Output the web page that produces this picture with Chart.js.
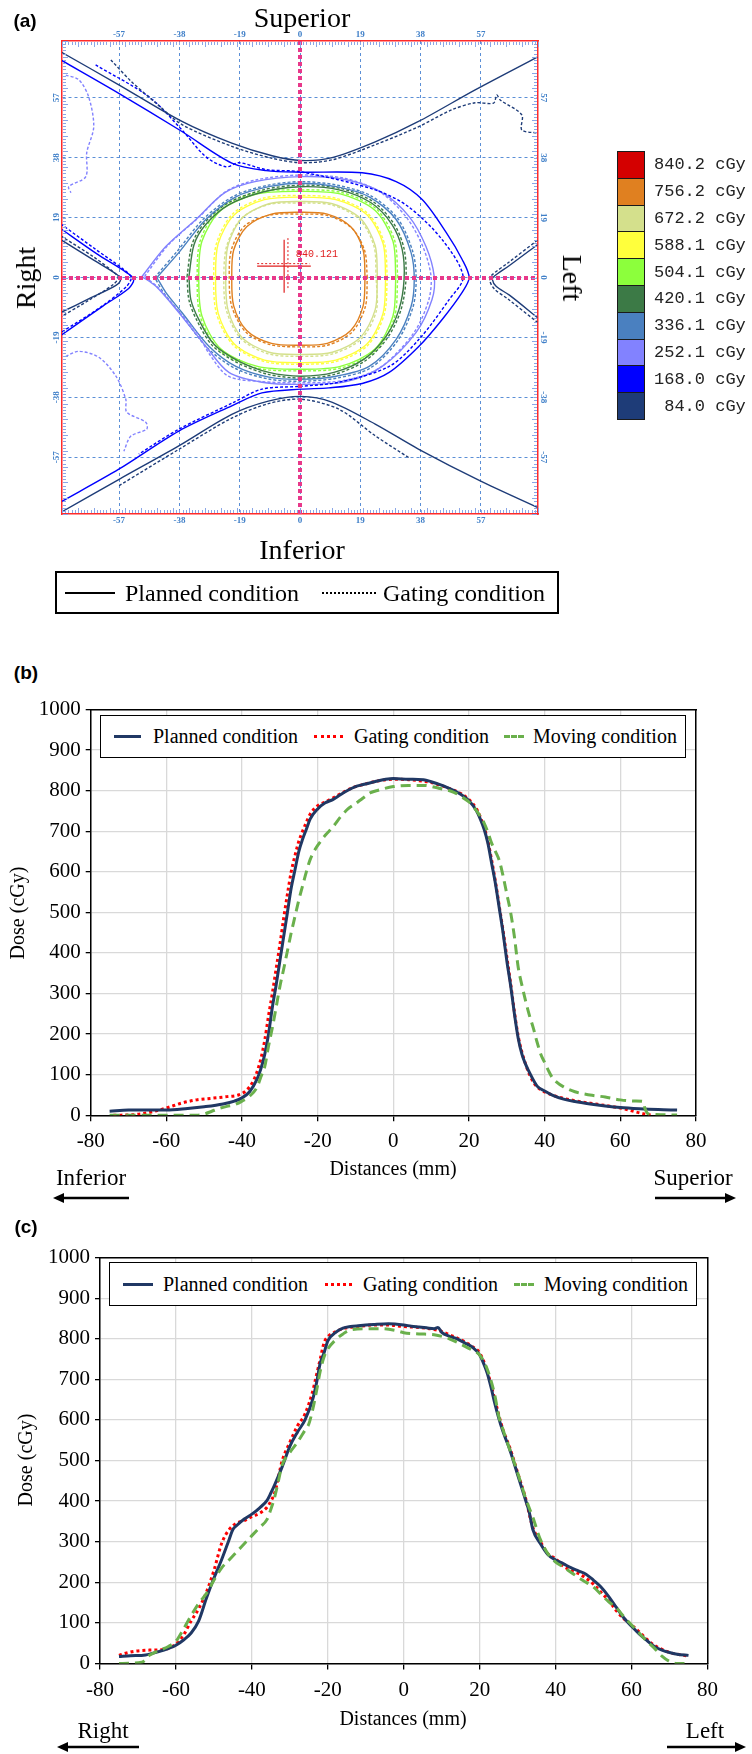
<!DOCTYPE html>
<html><head><meta charset="utf-8">
<script src="https://cdn.jsdelivr.net/npm/chart.js@4.4.1/dist/chart.umd.min.js"></script>
<style>
html,body{margin:0;padding:0;background:#fff;}
#page{position:relative;width:752px;height:1754px;overflow:hidden;font-family:"Liberation Serif","Times New Roman",serif;color:#000;}
canvas{position:absolute;left:0;}
.t{position:absolute;white-space:nowrap;transform:translate(-50%,-50%);line-height:1;}
.tl{position:absolute;white-space:nowrap;transform:translate(0,-50%);line-height:1;}
.pl{position:absolute;font-family:"Liberation Sans",Arial,sans-serif;font-weight:bold;font-size:19px;transform:translate(-50%,-50%);}
.box{position:absolute;background:#fff;box-sizing:border-box;}
.ln{position:absolute;height:0;}
</style></head>
<body><div id="page">
<canvas id="ca" width="752" height="560" style="top:0"></canvas>
<canvas id="cb" width="752" height="500" style="top:690px"></canvas>
<canvas id="cc" width="752" height="480" style="top:1240px"></canvas>

<div class="pl" style="left:25px;top:21px">(a)</div>
<div class="t" style="left:302px;top:18px;font-size:28px">Superior</div>
<div class="t" style="left:302px;top:550px;font-size:28px">Inferior</div>
<div class="t" style="left:26px;top:278px;font-size:28px;transform:translate(-50%,-50%) rotate(-90deg)">Right</div>
<div class="t" style="left:572px;top:278px;font-size:28px;transform:translate(-50%,-50%) rotate(90deg)">Left</div>
<div id="cl"></div>
<div class="box" style="left:55px;top:571px;width:504px;height:43px;border:2px solid #000"></div>
<div class="ln" style="left:65px;top:592px;width:50px;border-top:2px solid #000"></div>
<div class="tl" style="left:125px;top:593px;font-size:24px">Planned condition</div>
<div class="ln" style="left:322px;top:592px;width:54px;border-top:2px dotted #000"></div>
<div class="tl" style="left:383px;top:593px;font-size:24px">Gating condition</div>

<div class="pl" style="left:26px;top:673px">(b)</div>
<div class="box" style="left:100px;top:715px;width:586px;height:43px;border:1.5px solid #000"></div>
<div class="ln" style="left:114px;top:735px;width:27px;border-top:3px solid #203864"></div>
<div class="tl" style="left:153px;top:736px;font-size:20px">Planned condition</div>
<div class="ln" style="left:314px;top:735px;width:29px;border-top:3px dotted #ff0000"></div>
<div class="tl" style="left:354px;top:736px;font-size:20px">Gating condition</div>
<div class="ln" style="left:504px;top:735px;width:20px;border-top:3px dashed #6ab04c"></div>
<div class="tl" style="left:533px;top:736px;font-size:20px">Moving condition</div>
<div class="t" style="left:17px;top:913px;font-size:20px;transform:translate(-50%,-50%) rotate(-90deg)">Dose (cGy)</div>
<div class="t" style="left:393px;top:1168px;font-size:20px">Distances (mm)</div>
<div class="t" style="left:91px;top:1177px;font-size:23px">Inferior</div>
<div class="t" style="left:693px;top:1177px;font-size:23px">Superior</div>
<svg style="position:absolute;left:0;top:1188px" width="752" height="20">
<line x1="62" y1="10" x2="129" y2="10" stroke="#000" stroke-width="2.5"/><polygon points="53,10 64,5 64,15" fill="#000"/>
<line x1="655" y1="10" x2="727" y2="10" stroke="#000" stroke-width="2.5"/><polygon points="736,10 725,5 725,15" fill="#000"/>
</svg>

<div class="pl" style="left:26px;top:1227px">(c)</div>
<div class="box" style="left:109px;top:1262px;width:588px;height:44px;border:1.5px solid #000"></div>
<div class="ln" style="left:123px;top:1283px;width:30px;border-top:3px solid #203864"></div>
<div class="tl" style="left:163px;top:1284px;font-size:20px">Planned condition</div>
<div class="ln" style="left:325px;top:1283px;width:27px;border-top:3px dotted #ff0000"></div>
<div class="tl" style="left:363px;top:1284px;font-size:20px">Gating condition</div>
<div class="ln" style="left:514px;top:1283px;width:20px;border-top:3px dashed #6ab04c"></div>
<div class="tl" style="left:544px;top:1284px;font-size:20px">Moving condition</div>
<div class="t" style="left:25px;top:1460px;font-size:20px;transform:translate(-50%,-50%) rotate(-90deg)">Dose (cGy)</div>
<div class="t" style="left:403px;top:1718px;font-size:20px">Distances (mm)</div>
<div class="t" style="left:103px;top:1730px;font-size:23px">Right</div>
<div class="t" style="left:705px;top:1730px;font-size:23px">Left</div>
<svg style="position:absolute;left:0;top:1737px" width="752" height="20">
<line x1="66" y1="10" x2="139" y2="10" stroke="#000" stroke-width="2.5"/><polygon points="57,10 68,5 68,15" fill="#000"/>
<line x1="667" y1="10" x2="737" y2="10" stroke="#000" stroke-width="2.5"/><polygon points="746,10 735,5 735,15" fill="#000"/>
</svg>
</div>
<script>
// ---------- Panel (a) data: isodose levels ----------
const levelLabels = ['840.2 cGy','756.2 cGy','672.2 cGy','588.1 cGy','504.1 cGy','420.1 cGy','336.1 cGy','252.1 cGy','168.0 cGy',' 84.0 cGy'];
const levelColors = ['#d40000','#e08020','#d4e08c','#ffff3c','#8cff3c','#3c7a46','#4a80c0','#8282ff','#0000ff','#1e3c78'];
const aTicks = [-57,-38,-19,0,19,38,57];
const aZero = [0];

const c756P = [[20.5,0],[19.9,8.7],[16.0,16.1],[8.6,20.1],[0,20.7],[-9.0,20.1],[-16.8,16.1],[-20.9,8.7],[-21.5,0],[-20.9,-9.0],[-16.8,-16.8],[-9.0,-20.9],[0,-21.5],[8.6,-20.9],[16.0,-16.8],[19.9,-9.0]];
const c756G = [[21.2,0],[20.4,8.4],[16.4,15.6],[8.8,19.6],[0,20.1],[-9.4,19.8],[-17.3,16.5],[-21.6,8.9],[-22.3,0],[-21.5,-9.2],[-17.0,-17.4],[-9.3,-21.3],[0,-22.0],[8.9,-21.4],[16.5,-17.2],[20.6,-9.2]];
const c672P = [[24.4,0],[23.7,10.1],[19.0,18.8],[10.2,23.4],[0,24.1],[-9.8,23.4],[-18.3,18.8],[-22.7,10.1],[-23.4,0],[-22.7,-10.2],[-18.3,-19.0],[-9.8,-23.7],[0,-24.4],[10.2,-23.7],[19.0,-19.0],[23.7,-10.2]];
const c672G = [[24.0,0],[23.3,10.0],[18.7,18.5],[10.0,23.0],[0,23.6],[-10.1,23.1],[-18.6,18.6],[-23.1,10.0],[-24.0,0],[-23.2,-10.4],[-18.6,-19.4],[-10.0,-24.2],[0,-25.0],[10.4,-24.2],[19.4,-19.4],[24.1,-10.4]];
const c588P = [[27,0],[26.2,10.7],[21.1,19.9],[11.3,24.7],[0,25.5],[-11.2,24.7],[-20.7,19.9],[-25.8,10.7],[-26.6,0],[-25.8,-11.3],[-20.7,-21.1],[-11.2,-26.2],[0,-27],[11.3,-26.2],[21.1,-21.1],[26.2,-11.3]];
const c588G = [[27.5,0],[26.6,10.9],[21.4,20.3],[11.5,25.1],[0,26.0],[-11.4,25.2],[-21.1,20.3],[-26.3,10.9],[-27.2,0],[-26.3,-11.5],[-21.0,-21.5],[-11.4,-26.6],[0,-27.5],[11.5,-26.6],[21.4,-21.5],[26.6,-11.5]];
const c504P = [[30.2,0],[29.3,11.5],[23.6,21.3],[12.7,26.5],[0,27.3],[-13.4,26.5],[-24.9,21.3],[-30.9,11.5],[-31.9,0],[-30.9,-12.2],[-24.9,-22.7],[-13.4,-28.2],[0,-29.1],[12.7,-28.2],[23.6,-22.7],[29.3,-12.2]];
const c504G = [[30.8,0],[29.8,11.8],[24.0,21.8],[12.9,27.0],[0,27.8],[-13.6,27.0],[-25.3,21.8],[-31.4,11.8],[-32.4,0],[-31.4,-12.5],[-25.3,-23.1],[-13.6,-28.7],[0,-29.6],[12.9,-28.7],[24.0,-23.1],[29.8,-12.5]];
const c420P = [[-35.0,0.3],[-33.4,10.4],[-29.7,16.8],[-22.4,23.1],[-11.4,27.2],[0.3,28.8],[12.3,27.8],[22.4,23.7],[29.0,16.8],[32.2,8.9],[32.8,-0.6],[31.2,-10.1],[27.1,-18.7],[20.2,-25.9],[10.7,-30.1],[0.3,-31.3],[-9.8,-30.1],[-19.2,-26.6],[-27.1,-21.2],[-31.9,-13.3],[-34.4,-7.0]];
const c420G = [[-35.6,0.3],[-34.0,10.6],[-30.2,17.2],[-22.8,23.6],[-11.6,27.8],[0.3,29.3],[12.5,28.3],[22.8,24.2],[29.5,17.2],[32.8,9.1],[33.4,-0.6],[31.8,-10.3],[27.6,-19.1],[20.6,-26.4],[10.9,-30.7],[0.3,-31.9],[-10.0,-30.7],[-19.6,-27.1],[-27.6,-21.6],[-32.5,-13.6],[-35.0,-7.1]];
const c336P = [[-45.1,0],[-38.2,7.9],[-29.7,18.4],[-20.2,25.6],[-9.8,28.8],[0.3,29.9],[11.4,28.8],[21.8,25.6],[30.3,18.4],[35.0,7.9],[36.0,-0.6],[35.0,-9.2],[30.3,-19.6],[21.8,-28.2],[11.4,-31.3],[0.3,-32.3],[-9.8,-31.6],[-20.2,-28.2],[-28.7,-21.8],[-37.2,-11.1],[-42.3,-4.7]];
const c336G = [[-45.8,0],[-38.8,8.2],[-30.2,18.8],[-20.5,26.0],[-9.9,29.3],[0.3,30.4],[11.6,29.3],[22.2,26.0],[30.8,18.7],[35.6,8.0],[36.6,-0.6],[35.6,-9.4],[30.8,-20.0],[22.2,-28.7],[11.6,-31.9],[0.3,-32.9],[-9.9,-32.2],[-20.5,-28.8],[-29.2,-22.3],[-37.8,-11.3],[-43.0,-4.8]];
const c252P = [[-49.8,0.3],[-42.3,9.8],[-32.8,18.4],[-23.7,26.9],[-14.2,30.4],[0.3,32.0],[14.5,31.0],[25.9,26.9],[34.4,19.3],[39.7,9.8],[42.3,0.3],[41.6,-7.0],[36.6,-17.4],[25.9,-28.2],[14.5,-33.0],[0.3,-33.9],[-12.0,-33.2],[-22.4,-30.1],[-29.7,-21.8],[-38.2,-11.1],[-45.4,-2.8]];
const c252G = [[-49.0,0.3],[-41.6,10.2],[-32.2,18.8],[-23.3,27.3],[-14.0,30.9],[0.3,32.5],[14.3,31.4],[25.4,27.0],[33.6,19.0],[38.8,9.6],[41.3,0.3],[40.5,-7.4],[35.7,-17.8],[25.2,-28.6],[14.2,-32.6],[0.3,-33.4],[-12.2,-33.0],[-22.6,-31.3],[-28.4,-24.5],[-32.5,-17.5],[-37.5,-11.6],[-44.7,-3.2]];
const c252GUpper = [[-73.8,64.2],[-69.7,62.7],[-66.6,57.3],[-65.0,47.8],[-67.2,39.6],[-67.5,32.0],[-72.9,28.8],[-72.2,26.9]];
const c252GLower = [[-73.8,-25.0],[-69.7,-23.4],[-63.4,-25.3],[-58.0,-31.3],[-54.9,-38.6],[-54.6,-42.7],[-48.6,-45.9],[-48.3,-48.1],[-53.3,-50.3],[-55.5,-55.1]];
const c168P = [[-75.4,69.0],[-57.1,58.4],[-37.2,46.3],[-21.5,36.3],[-10.7,33.9],[0.3,33.4],[19.6,33.2],[30.3,30.4],[38.5,24.7],[46.1,14.2],[51.1,5.7],[53.3,0],[51.1,-4.7],[44.8,-13.3],[37.5,-21.8],[28.1,-30.1],[19.6,-33.6],[9.1,-35.0],[0.3,-35.4],[-12.0,-36.6],[-21.5,-40.7],[-38.2,-48.7],[-57.1,-60.8],[-75.4,-71.2]];
const c168G = [[-64.4,67.4],[-47.6,57.3],[-37.2,46.8],[-29.7,38.3],[-23.3,35.1],[-19.2,36.4],[-10.7,34.2],[0.3,33.5],[23.7,27.8],[34.1,22.5],[44.8,12.0],[51.4,0.3],[47.0,-7.0],[37.5,-19.6],[28.1,-28.2],[12.3,-33.2],[0.3,-34.5],[-12.0,-35.4],[-21.5,-39.9],[-38.2,-48.1],[-50.8,-56.0]];
const c168PCone = [[-75.4,15.5],[-64,7.5],[-55,1.8],[-52.4,-0.5],[-54,-3.5],[-62,-9],[-75.4,-18.4]];
const c168GCone = [[-75.4,17.0],[-64.5,9.0],[-55.5,2.5],[-53.2,0],[-54.8,-3.0],[-63,-9.5],[-75.4,-17.5]];
const c84PUpper = [[-75.4,71.6],[-57.1,61.1],[-37.2,49.5],[-21.5,42.6],[-8.8,38.6],[0.3,37.1],[10.1,38.0],[23.7,43.0],[37.2,49.4],[55.2,59.5],[74.8,69.9]];
const c84GUpper = [[-59.6,69.0],[-53.0,62.0],[-45.0,55.0],[-37.2,48.5],[-21.5,41.6],[-8.8,37.8],[0.3,36.4],[10.1,37.3],[23.7,42.1],[37.3,47.8],[47.9,53.2],[55.2,55.4],[61.0,55.3],[62.0,57.9],[63.1,56.3],[69.9,51.6],[69.9,46.8],[75.2,45.8]];
const c84PLower = [[-75.4,-74.5],[-57,-64],[-38.2,-53.4],[-21.5,-43.4],[-10,-39.2],[0.3,-37.7],[10,-39.5],[23.7,-46.5],[37.3,-54.4],[56.8,-64.5],[74.8,-72.9]];
const c84GLower = [[-57,-66],[-38.2,-54.5],[-21.5,-44.6],[-10,-40.0],[0.3,-38.6],[12.3,-41.8],[23.7,-50.2],[34.7,-57.4]];
const c84PLeftCone = [[-75.4,12.0],[-65,5.5],[-57.5,0.8],[-56.5,-0.6],[-58,-2.5],[-66,-6.5],[-75.4,-11.1]];
const c84GLeftCone = [[-75.4,13.2],[-65,6.5],[-58.5,1.5],[-57.3,0],[-58.8,-2.2],[-66.5,-7.2],[-75.4,-12.5]];
const c84PRightCone = [[74.8,10.4],[66,3.8],[61.2,0.4],[60.6,-0.6],[61.8,-2.8],[66,-5.6],[74.8,-12.7]];
const c84GRightCone = [[74.8,11.8],[65.5,4.6],[60.3,0.6],[59.8,-1.0],[61.2,-3.6],[65.5,-6.8],[74.8,-14.2]];
const markerH = [[-13.5,3.6],[3.4,3.6]];
const markerV = [[-5.0,12.0],[-5.0,-4.8]];
const markerHd = [[-13.5,4.4],[3.0,4.4]];
const markerVd = [[-3.8,12.5],[-3.8,-3.5]];
const markerLabel = [-1.3, 7.3];
const markerText = '840.121';

// ---------- Panel (b): Inferior-Superior profile ----------
const bPlanned = [[-75,10],[-70,13],[-65,13],[-60,13],[-55,16],[-50,21],[-45,28],[-42,35],[-40,43],[-38,58],[-36,90],[-35,115],[-34,150],[-33,200],[-32,265],[-31,320],[-30,380],[-29,440],[-28,500],[-27,560],[-26,605],[-25,650],[-24,680],[-23,705],[-22,730],[-20,755],[-18,770],[-16,778],[-14,790],[-12,801],[-10,810],[-8,815],[-5,822],[-2,828],[0,830],[4,828],[8,827],[10,822],[14,809],[18,790],[20,775],[22,750],[23,730],[24,705],[25,670],[26,620],[27,570],[28,510],[29,450],[30,380],[31,320],[32,250],[33,190],[34,150],[35,125],[36,105],[38,72],[40,60],[42,50],[45,40],[48,34],[52,28],[56,23],[60,19],[65,16],[70,14],[75,13]];
const bGating = [[-74,0],[-68,2],[-64,8],[-60,18],[-56,30],[-52,38],[-48,42],[-44,46],[-41,50],[-39,60],[-37,85],[-36,108],[-35,140],[-34,185],[-33,245],[-32,300],[-31,360],[-30,420],[-29,485],[-28,545],[-27,600],[-26,640],[-25,675],[-24,700],[-23,722],[-22,742],[-20,763],[-18,772],[-16,782],[-14,792],[-12,802],[-10,810],[-8,815],[-5,822],[-2,827],[0,828],[4,827],[8,823],[10,820],[14,808],[18,792],[20,778],[22,755],[23,735],[24,710],[25,675],[26,628],[27,575],[28,515],[29,455],[30,390],[31,325],[32,255],[33,195],[34,155],[35,125],[36,100],[37,82],[38,70],[42,50],[48,36],[54,27],[60,18],[63,11],[66,4],[68,1]];
const bMoving = [[-75,0],[-70,0],[-60,0],[-52,0],[-50,3],[-48,10],[-46,17],[-44,22],[-42,26],[-40,35],[-38,47],[-36,70],[-35,95],[-34,120],[-33,170],[-32,215],[-31,265],[-30,317],[-29,360],[-28,405],[-27,450],[-26,490],[-25,530],[-24,565],[-23,600],[-22,630],[-21,650],[-20,665],[-18,690],[-16,710],[-14,735],[-12,755],[-10,768],[-8,782],[-6,795],[-4,801],[0,810],[4,813],[8,813],[12,806],[16,796],[18,785],[20,772],[22,750],[24,720],[25,697],[26,670],[27,650],[28,628],[29,590],[30,545],[31,500],[32,440],[33,365],[34,320],[35,280],[36,245],[37,215],[38,180],[39,150],[40,130],[41,110],[42,93],[43,83],[45,70],[48,58],[52,50],[56,45],[60,38],[64,35],[66,34],[66.5,17],[67.5,3],[75,1]];

// ---------- Panel (c): Right-Left profile ----------
const cPlanned = [[-75,17],[-72,19],[-68,21],[-65,28],[-62,37],[-60,45],[-58,58],[-56,75],[-54,105],[-52,160],[-50,210],[-48,255],[-46,305],[-45,330],[-44,340],[-42,356],[-40,368],[-38,383],[-36,402],[-35,420],[-34,440],[-32,485],[-30,535],[-28,570],[-26,600],[-24,650],[-23,690],[-22,740],[-21,765],[-20,795],[-18,815],[-16,826],[-14,830],[-12,832],[-8,835],[-4,837],[0,834],[2,831],[4,829],[6,827],[8,825],[9,828],[10,816],[12,806],[14,800],[16,790],[18,780],[20,760],[21,740],[22,715],[23,680],[24,640],[25,605],[26,575],[27,550],[28,525],[30,465],[32,405],[33,375],[34,330],[36,295],[38,268],[40,255],[42,246],[44,236],[46,228],[48,220],[50,205],[52,188],[54,165],[56,138],[58,112],[60,92],[62,73],[64,57],[66,42],[68,33],[70,27],[72,23],[75,20]];
const cGating = [[-75,20],[-73,26],[-71,30],[-67,33],[-63,35],[-60,48],[-58,70],[-56,105],[-54,135],[-52,175],[-50,229],[-48,295],[-46,330],[-44,346],[-42,352],[-40,362],[-38,370],[-36,385],[-35,400],[-34,420],[-32,500],[-30,545],[-28,585],[-26,615],[-24,670],[-23,710],[-22,750],[-21,790],[-20,805],[-18,817],[-16,825],[-12,830],[-8,834],[-4,834],[0,830],[4,828],[8,823],[10,818],[12,810],[14,802],[16,793],[18,781],[20,765],[22,720],[24,650],[26,580],[28,530],[30,470],[32,410],[34,335],[36,300],[38,270],[40,258],[42,240],[44,230],[46,222],[48,210],[50,195],[52,175],[54,155],[56,130],[58,110],[60,95],[62,78],[64,60],[66,45],[68,35],[70,27],[72,23],[75,18]];
const cMoving = [[-75,0],[-69,3],[-67,20],[-65,30],[-62,42],[-60,55],[-58,85],[-56,118],[-54,148],[-52,172],[-50,205],[-48,235],[-46,255],[-44,275],[-42,295],[-40,315],[-38,335],[-36,355],[-35,380],[-34,410],[-33,450],[-32,490],[-30,520],[-28,545],[-26,575],[-25,590],[-24,625],[-23,670],[-22,720],[-21,755],[-20,775],[-18,797],[-16,812],[-14,822],[-10,825],[-6,825],[-2,820],[0,815],[4,812],[8,810],[12,800],[16,782],[18,772],[20,760],[22,725],[24,660],[25,610],[26,580],[28,525],[30,470],[32,410],[34,360],[36,305],[38,270],[40,250],[42,238],[44,225],[46,212],[48,200],[50,188],[52,170],[54,152],[56,137],[58,115],[60,95],[62,75],[64,55],[66,38],[68,18],[70,5],[72,0],[75,0]];

// ---------- colour legend (HTML) ----------
(function(){
  const cl = document.getElementById('cl');
  const top0 = 151, h = 26.8;
  levelLabels.forEach((lab,i)=>{
    const sw = document.createElement('div');
    sw.style.cssText = `position:absolute;left:617px;top:${top0+i*h}px;width:28px;height:${h+1.5}px;background:${levelColors[i]};border:1.5px solid #1a1a1a;box-sizing:border-box;`;
    cl.appendChild(sw);
    const tx = document.createElement('div');
    tx.textContent = lab;
    tx.style.cssText = `position:absolute;left:654px;top:${top0+i*h+h/2}px;transform:translate(0,-50%);font-family:"Liberation Mono","Courier New",monospace;font-size:17px;white-space:pre;color:#222;line-height:1;`;
    cl.appendChild(tx);
  });
})();

const toXY = a => a.map(p=>({x:p[0],y:p[1]}));
function contour(arr, color, gating, closed){
  const pts = closed ? arr.concat([arr[0]]) : arr;
  return {data:toXY(pts), borderColor:color, borderWidth:1.4, pointRadius:0, showLine:true, fill:false,
          tension:0.3, borderDash: gating?[3,2]:[], xAxisID:'x', yAxisID:'y'};
}
const L = levelColors;
const aDatasets = [
  contour(c84PUpper, L[9], false, false), contour(c84GUpper, L[9], true, false),
  contour(c84PLower, L[9], false, false), contour(c84GLower, L[9], true, false),
  contour(c84PLeftCone, L[9], false, false), contour(c84GLeftCone, L[9], true, false),
  contour(c84PRightCone, L[9], false, false), contour(c84GRightCone, L[9], true, false),
  contour(c168P, L[8], false, false), contour(c168G, L[8], true, false),
  contour(c168PCone, L[8], false, false), contour(c168GCone, L[8], true, false),
  contour(c252P, L[7], false, true), contour(c252G, L[7], true, true),
  contour(c252GUpper, L[7], true, false), contour(c252GLower, L[7], true, false),
  contour(c336P, L[6], false, true), contour(c336G, L[6], true, true),
  contour(c420P, L[5], false, true), contour(c420G, L[5], true, true),
  contour(c504P, L[4], false, true), contour(c504G, L[4], true, true),
  contour(c588P, L[3], false, true), contour(c588G, L[3], true, true),
  contour(c672P, L[2], false, true), contour(c672G, L[2], true, true),
  contour(c756P, L[1], false, true), contour(c756G, L[1], true, true),
  {data:toXY(markerH), borderColor:'#e02020', borderWidth:1.2, pointRadius:0, showLine:true},
  {data:toXY(markerV), borderColor:'#e02020', borderWidth:1.2, pointRadius:0, showLine:true},
  {data:toXY(markerHd), borderColor:'#e02020', borderWidth:1, borderDash:[2,2], pointRadius:0, showLine:true},
  {data:toXY(markerVd), borderColor:'#e02020', borderWidth:1, borderDash:[2,2], pointRadius:0, showLine:true}
];

const setTicks = vals => s => { s.ticks = vals.map(v=>({value:v})); };
const zeroH = s => { s.height = 0; };
const zeroW = s => { s.width = 0; };
const BLUE_GRID = '#5b8fd6', RED = '#ff2a2a', PINK = '#e8388a';

const aDecor = {
  id:'aDecor',
  afterDraw(chart){
    const {ctx, chartArea:{left,right,top,bottom}, scales:{x,y}} = chart;
    ctx.save();
    ctx.strokeStyle = '#8aa6e6'; ctx.lineWidth = 1;
    ctx.beginPath();
    for(let v=-75; v<=75; v++){
      const px = Math.round(x.getPixelForValue(v))+0.5;
      const py = Math.round(y.getPixelForValue(v))+0.5;
      const len = (v%5===0)?5:3;
      ctx.moveTo(px, top+1); ctx.lineTo(px, top+1+len);
      ctx.moveTo(px, bottom-1); ctx.lineTo(px, bottom-1-len);
      ctx.moveTo(left+1, py); ctx.lineTo(left+1+len, py);
      ctx.moveTo(right-1, py); ctx.lineTo(right-1-len, py);
    }
    ctx.stroke();
    ctx.fillStyle = '#3f7fc8'; ctx.font = 'bold 9px "Liberation Serif"';
    ctx.textAlign = 'center'; ctx.textBaseline = 'middle';
    aTicks.forEach(v=>{
      const px = x.getPixelForValue(v), py = y.getPixelForValue(v);
      ctx.fillText(String(v), px, top-6);
      ctx.fillText(String(v), px, bottom+7);
      ctx.save(); ctx.translate(left-5, py); ctx.rotate(-Math.PI/2); ctx.fillText(String(v),0,0); ctx.restore();
      ctx.save(); ctx.translate(right+5, py); ctx.rotate(Math.PI/2); ctx.fillText(String(v),0,0); ctx.restore();
    });
    ctx.fillStyle = '#e02020'; ctx.font = '10px "Liberation Mono"'; ctx.textAlign = 'left';
    ctx.fillText(markerText, x.getPixelForValue(markerLabel[0]), y.getPixelForValue(markerLabel[1]));
    ctx.restore();
  }
};

new Chart(document.getElementById('ca'), {
  type:'scatter',
  data:{datasets:aDatasets},
  options:{
    responsive:false, animation:false, events:[],
    layout:{padding:{left:62, top:41, right:214, bottom:46}},
    plugins:{legend:{display:false}, tooltip:{enabled:false}},
    scales:{
      x:{type:'linear', position:'bottom', min:-75, max:75, afterBuildTicks:setTicks(aTicks), afterFit:zeroH,
         ticks:{display:false}, grid:{color:BLUE_GRID, lineWidth:1, drawTicks:false}, border:{color:RED, width:1.5, dash:[3,3]}},
      x2:{type:'linear', position:'top', min:-75, max:75, afterFit:zeroH,
         ticks:{display:false}, grid:{display:false, drawTicks:false}, border:{color:RED, width:1.5}},
      xz:{type:'linear', position:'bottom', min:-75, max:75, afterBuildTicks:setTicks(aZero), afterFit:zeroH,
         ticks:{display:false}, grid:{color:PINK, lineWidth:4, drawTicks:false, z:1}, border:{display:false, dash:[4,3]}},
      y:{type:'linear', position:'left', min:-75, max:75, afterBuildTicks:setTicks(aTicks), afterFit:zeroW,
         ticks:{display:false}, grid:{color:BLUE_GRID, lineWidth:1, drawTicks:false}, border:{color:RED, width:1.5, dash:[3,3]}},
      y2:{type:'linear', position:'right', min:-75, max:75, afterFit:zeroW,
         ticks:{display:false}, grid:{display:false, drawTicks:false}, border:{color:RED, width:1.5}},
      yz:{type:'linear', position:'left', min:-75, max:75, afterBuildTicks:setTicks(aZero), afterFit:zeroW,
         ticks:{display:false}, grid:{color:PINK, lineWidth:4, drawTicks:false, z:1}, border:{display:false, dash:[4,3]}}
    }
  },
  plugins:[aDecor]
});

// ---------- profile charts ----------
const serif = '"Liberation Serif","Times New Roman",serif';
function profile(id, planned, gating, moving, g){
  return new Chart(document.getElementById(id), {
    type:'scatter',
    data:{datasets:[
      {data:toXY(moving), borderColor:'#6ab04c', borderWidth:3, borderDash:[10,6], pointRadius:0, showLine:true, cubicInterpolationMode:'monotone'},
      {data:toXY(planned), borderColor:'#203864', borderWidth:3, pointRadius:0, showLine:true, cubicInterpolationMode:'monotone'},
      {data:toXY(gating), borderColor:'#ff0000', borderWidth:3, borderDash:[3,3], pointRadius:0, showLine:true, cubicInterpolationMode:'monotone'}
    ]},
    options:{
      responsive:false, animation:false, events:[],
      layout:{padding:{left:0, top:g.top, right:g.right, bottom:0}},
      plugins:{legend:{display:false}, tooltip:{enabled:false}},
      scales:{
        x:{type:'linear', position:'bottom', min:-80, max:80, afterFit:s=>{s.height=g.xh;},
           ticks:{stepSize:20, font:{family:serif, size:21}, color:'#000', padding:8, maxRotation:0, callback:v=>String(v)},
           grid:{color:'#d9d9d9', lineWidth:1.3, tickLength:6, tickColor:'#000', tickWidth:1.3}, border:{color:'#000', width:1.5}},
        x2:{type:'linear', position:'top', min:-80, max:80, afterFit:zeroH,
           ticks:{display:false}, grid:{display:false, drawTicks:false}, border:{color:'#000', width:1.5}},
        y:{type:'linear', position:'left', min:0, max:1000, afterFit:s=>{s.width=g.yw;},
           ticks:{stepSize:100, font:{family:serif, size:21}, color:'#000', padding:5, callback:v=>String(v)},
           grid:{color:'#d9d9d9', lineWidth:1.3, tickLength:5, tickColor:'#000', tickWidth:1.3}, border:{color:'#000', width:1.5}},
        y2:{type:'linear', position:'right', min:0, max:1000, afterFit:zeroW,
           ticks:{display:false}, grid:{display:false, drawTicks:false}, border:{color:'#000', width:1.5}}
      }
    }
  });
}
profile('cb', bPlanned, bGating, bMoving, {top:19.5, right:56, xh:74.7, yw:90.7});
profile('cc', cPlanned, cGating, cMoving, {top:16, right:44.5, xh:56.5, yw:100});
</script>
</body></html>
